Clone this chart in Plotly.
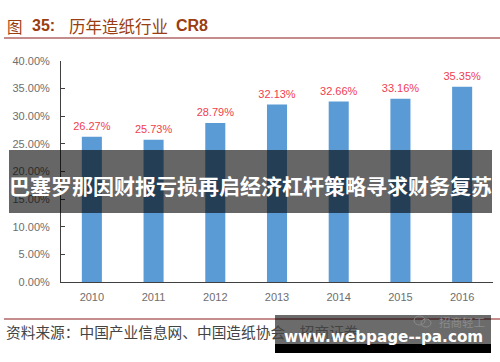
import plotly.graph_objects as go

years = ["2010", "2011", "2012", "2013", "2014", "2015", "2016"]
cr8 = [26.27, 25.73, 28.79, 32.13, 32.66, 33.16, 35.35]
tick_vals = [0, 5, 10, 15, 20, 25, 30, 35, 40]
tick_text = ["0.00%", "5.00%", "10.00%", "15.00%", "20.00%", "25.00%", "30.00%", "35.00%", "40.00%"]
title_prefix = "图"
title_number = "35:"
title_words = "历年造纸行业"
title_code = "CR8"
source_text = "资料来源：中国产业信息网、中国造纸协会、招商证券"
banner_text = "巴塞罗那因财报亏损再启经济杠杆策略寻求财务复苏"
watermark_text = "www.webpage--pa.com"
wechat_text = "招商轻工"

W, H = 500, 362
L, R, T, B = 61, 493, 61, 282
CJK = "Noto Sans CJK SC"
SANS = "Liberation Sans"


def px(x):
    return (x - L) / (R - L)


def py(y):
    return (B - y) / (B - T)


def rect(x0, y0, x1, y1, color):
    return dict(type="rect", xref="paper", yref="paper", x0=px(x0), x1=px(x1),
                y0=py(y1), y1=py(y0), fillcolor=color, line_width=0, layer="above")


def hline(x0, x1, y, color, w):
    return dict(type="line", xref="paper", yref="paper", x0=px(x0), x1=px(x1),
                y0=py(y), y1=py(y), line=dict(color=color, width=w), layer="below")


def ring(x0, y0, x1, y1):
    return dict(type="circle", xref="paper", yref="paper", x0=px(x0), x1=px(x1),
                y0=py(y1), y1=py(y0), line=dict(color="#8A8A8A", width=1), layer="above")


def note(x, y, text, size, color, family, anchor="left", bold=False):
    return dict(xref="paper", yref="paper", x=px(x), y=py(y), text=f"<b>{text}</b>" if bold else text,
                showarrow=False, xanchor=anchor, yanchor="middle",
                font=dict(size=size, color=color, family=family))


fig = go.Figure()
fig.add_trace(go.Bar(x=years, y=cr8, width=0.325, marker=dict(color="#5B9BD5", line_width=0)))
fig.add_trace(go.Scatter(
    x=years, y=cr8, mode="markers+text", marker=dict(size=5, opacity=0),
    text=[f"{v:.2f}%" for v in cr8], textposition="top center", cliponaxis=False,
    textfont=dict(size=11, color="#F04050", family=SANS),
))

fig.update_layout(
    width=W, height=H, autosize=False, showlegend=False,
    paper_bgcolor="white", plot_bgcolor="white",
    margin=dict(l=L, r=W - R, t=T, b=H - B),
    xaxis=dict(type="category", showgrid=False, showline=True, linecolor="#404040", linewidth=1,
               ticks="", ticklabelstandoff=5, tickfont=dict(size=11, color="#6E6E6E", family=SANS)),
    yaxis=dict(range=[0, 40], tickvals=tick_vals, ticktext=tick_text, showgrid=False, zeroline=False,
               showline=True, linecolor="#404040", linewidth=1, ticks="inside", ticklen=4,
               ticklabelstandoff=8, tickcolor="#404040",
               tickfont=dict(size=11, color="#6E6E6E", family=SANS)),
    shapes=[
        hline(4, 500, 38, "#8B1A1A", 1.2),
        hline(4, 500, 319, "#8B1A1A", 1),
        rect(9, 150, 492, 213, "rgba(0,0,0,0.6)"),
        rect(275, 315, 491, 344, "rgba(0,0,0,0.58)"),
        rect(275, 344, 491, 353, "#000000"),
        ring(414, 316, 425, 325),
        ring(421, 319, 431, 327),
    ],
    annotations=[
        note(5, 26, title_prefix, 15.5, "#9A3D10", CJK),
        note(30, 26, title_number, 16, "#9A3D10", SANS, bold=True),
        note(67, 26, title_words, 16.5, "#9A3D10", CJK),
        note(174, 26, title_code, 16, "#9A3D10", SANS, bold=True),
        note(4, 331, source_text, 14.7, "#444444", CJK),
        note(437, 322, wechat_text, 11.5, "#8A8A8A", CJK),
        note(250.5, 185, banner_text, 21, "#FFFFFF", CJK, anchor="center", bold=True),
        note(383, 337, watermark_text, 15.2, "#FFFFFF", "DejaVu Sans", anchor="center", bold=True),
    ],
)

fig.write_html("out.html", config={"displayModeBar": False},
               post_script="document.body.style.margin='0';")
